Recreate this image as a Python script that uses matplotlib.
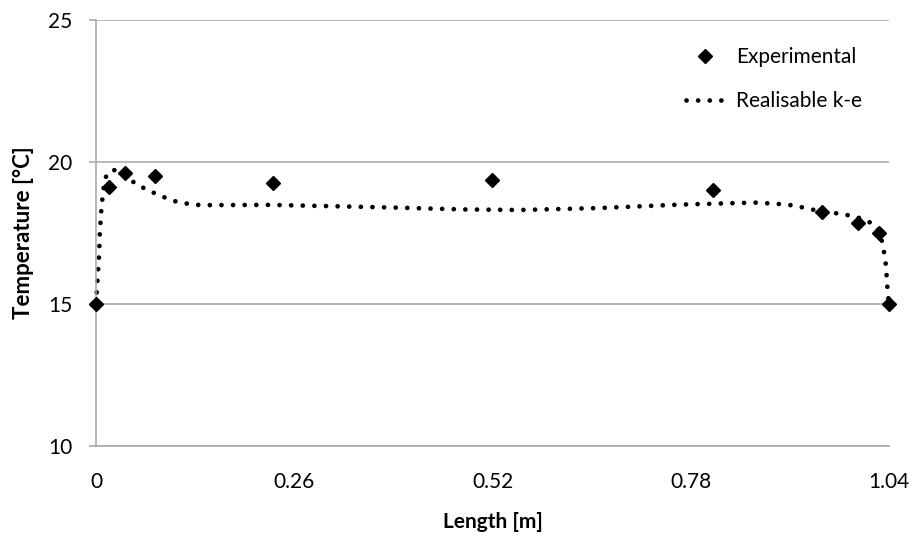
import matplotlib.pyplot as plt

# measured points
exp_x = [0, 0.017, 0.038, 0.077, 0.232, 0.519, 0.809, 0.952, 0.999, 1.027, 1.04]
exp_t = [15.0, 19.12, 19.61, 19.5, 19.26, 19.37, 19.01, 18.24, 17.85, 17.5, 15.0]

# realisable k-e curve
sim_x = [0, 0.002, 0.004, 0.005, 0.007, 0.0085, 0.0105, 0.014, 0.02, 0.026, 0.039,
         0.051, 0.066, 0.080, 0.094, 0.108, 0.123, 0.138, 0.228, 0.30, 0.399, 0.48,
         0.556, 0.661, 0.766, 0.849, 0.866, 0.896, 0.911, 0.927, 0.942, 0.972, 0.988,
         1.005, 1.016, 1.024, 1.028, 1.031, 1.034, 1.036, 1.038, 1.04]
sim_t = [15.0, 15.85, 16.7, 17.5, 18.33, 18.75, 19.2, 19.57, 19.70, 19.72, 19.58,
         19.24, 19.04, 18.86, 18.71, 18.58, 18.52, 18.48, 18.49, 18.45, 18.39, 18.33,
         18.31, 18.38, 18.50, 18.56, 18.57, 18.52, 18.48, 18.40, 18.31, 18.19, 18.12,
         18.0, 17.86, 17.7, 17.51, 17.16, 16.75, 16.34, 15.52, 15.0]

x_ticks = [0, 0.26, 0.52, 0.78, 1.04]
x_labels = ["0", "0.26", "0.52", "0.78", "1.04"]
y_ticks = [10, 15, 20, 25]

plt.rcParams['font.family'] = ['Lato', 'DejaVu Sans']
grey = '#a6a6a6'
fs = 15

fig = plt.figure(figsize=(9.17, 5.36), dpi=100)
ax = fig.add_axes([0.1047, 0.1679, 0.8648, 0.7948])

ax.plot(exp_x, exp_t, linestyle='none', marker='D', markersize=7, color='black',
        label='Experimental', zorder=3, clip_on=False)
ax.plot(sim_x, sim_t, color='black', linewidth=3.4, linestyle=(0, (0.01, 2.45)),
        dash_capstyle='round', label='Realisable k-e', zorder=2, clip_on=False)

ax.set_xlim(0, 1.04)
ax.set_ylim(10, 25)
ax.set_xticks(x_ticks)
ax.set_xticklabels(x_labels)
ax.set_yticks(y_ticks)

ax.grid(axis='y', color=grey, linewidth=1.1)
ax.set_axisbelow(True)
for s in ['top', 'right']:
    ax.spines[s].set_visible(False)
for s in ['left', 'bottom']:
    ax.spines[s].set_color(grey)
    ax.spines[s].set_linewidth(1.1)

ax.tick_params(axis='y', length=5, color=grey, width=1.1, pad=12, labelsize=fs)
ax.tick_params(axis='x', length=0, pad=19, labelsize=fs)

ax.set_xlabel('Length [m]', fontsize=fs, fontweight='bold', labelpad=14)
ax.set_ylabel('Temperature [°C]', fontsize=fs + 1, fontweight='bold', labelpad=10)

ax.legend(loc='upper right', bbox_to_anchor=(0.99, 0.98), frameon=False,
          fontsize=fs, handlelength=1.8, handletextpad=0.6, labelspacing=1.15)

fig.savefig('out.png', dpi=100)
